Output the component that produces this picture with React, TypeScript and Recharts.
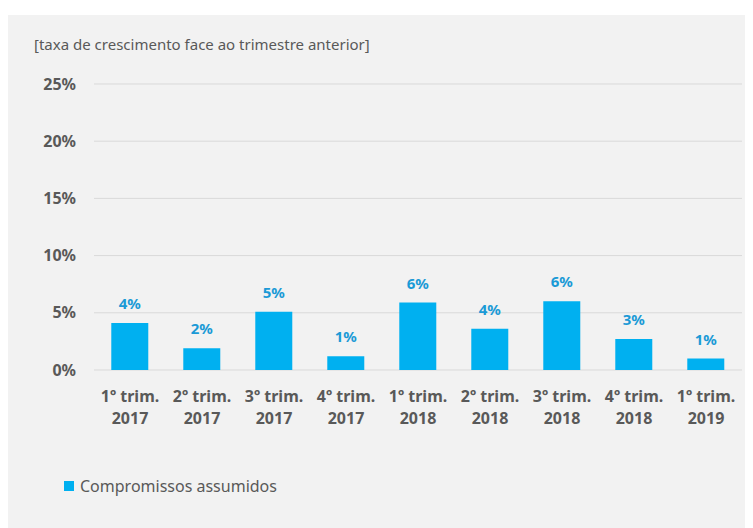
import React from "react";
import { BarChart, Bar, XAxis, YAxis, CartesianGrid, LabelList, Legend } from "recharts";

const quarters = ["1º trim.", "2º trim.", "3º trim.", "4º trim.", "1º trim.", "2º trim.", "3º trim.", "4º trim.", "1º trim."];
const years = ["2017", "2017", "2017", "2017", "2018", "2018", "2018", "2018", "2019"];
const growth = [4.1, 1.9, 5.1, 1.2, 5.9, 3.6, 6.0, 2.7, 1.0];
const yTicks = [0, 5, 10, 15, 20, 25];

const data = growth.map((v, i) => ({ name: quarters[i] + "|" + years[i], value: v }));

const FONT = "'Noto Sans', sans-serif";
const GREY = "#595959";

const QuarterTick = (props: any) => {
  const { x, y, payload } = props;
  const [q, yr] = String(payload.value).split("|");
  return (
    <text x={x} y={y} textAnchor="middle" fill={GREY} fontFamily={FONT} fontWeight="bold" fontSize={16}>
      <tspan x={x} dy={24}>{q}</tspan>
      <tspan x={x} dy={22}>{yr}</tspan>
    </text>
  );
};

const LegendContent = () => (
  <div style={{ display: "flex", alignItems: "center", fontFamily: FONT, fontSize: 16, color: GREY }}>
    <span style={{ width: 10, height: 10, background: "#00b0f0", display: "inline-block", marginRight: 6 }} />
    Compromissos assumidos
  </div>
);

export default function App() {
  return (
    <div style={{ paddingTop: 7 }}>
      <div style={{ position: "relative", width: 745, height: 513, background: "#f2f2f2" }}>
        <div
          style={{
            position: "absolute",
            left: 26,
            top: 19,
            fontFamily: FONT,
            fontSize: 15,
            color: GREY,
            whiteSpace: "nowrap",
          }}
        >
          [taxa de crescimento face ao trimestre anterior]
        </div>
        <BarChart
          width={745}
          height={513}
          data={data}
          margin={{ top: 69, right: 11, left: 0, bottom: 108 }}
          barCategoryGap="24%"
        >
          <CartesianGrid vertical={false} stroke="#d9d9d9" />
          <XAxis dataKey="name" interval={0} axisLine={false} tickLine={false} height={50} tick={<QuarterTick />} />
          <YAxis
            domain={[0, 25]}
            ticks={yTicks}
            width={86}
            axisLine={false}
            tickLine={false}
            tickSize={0}
            tickMargin={18}
            tickFormatter={(v: number) => v + "%"}
            tick={{ fill: GREY, fontFamily: FONT, fontWeight: "bold", fontSize: 16 }}
          />
          <Legend
            layout="vertical"
            align="center"
            verticalAlign="middle"
            wrapperStyle={{ left: 56, top: 460, width: "auto" }}
            content={<LegendContent />}
          />
          <Bar dataKey="value" fill="#00b0f0" isAnimationActive={false}>
            <LabelList
              dataKey="value"
              position="top"
              offset={14}
              formatter={(v: number) => Math.round(v) + "%"}
              fill="#1b9ad6"
              fontFamily={FONT}
              fontWeight="bold"
              fontSize={15}
            />
          </Bar>
        </BarChart>
      </div>
    </div>
  );
}
